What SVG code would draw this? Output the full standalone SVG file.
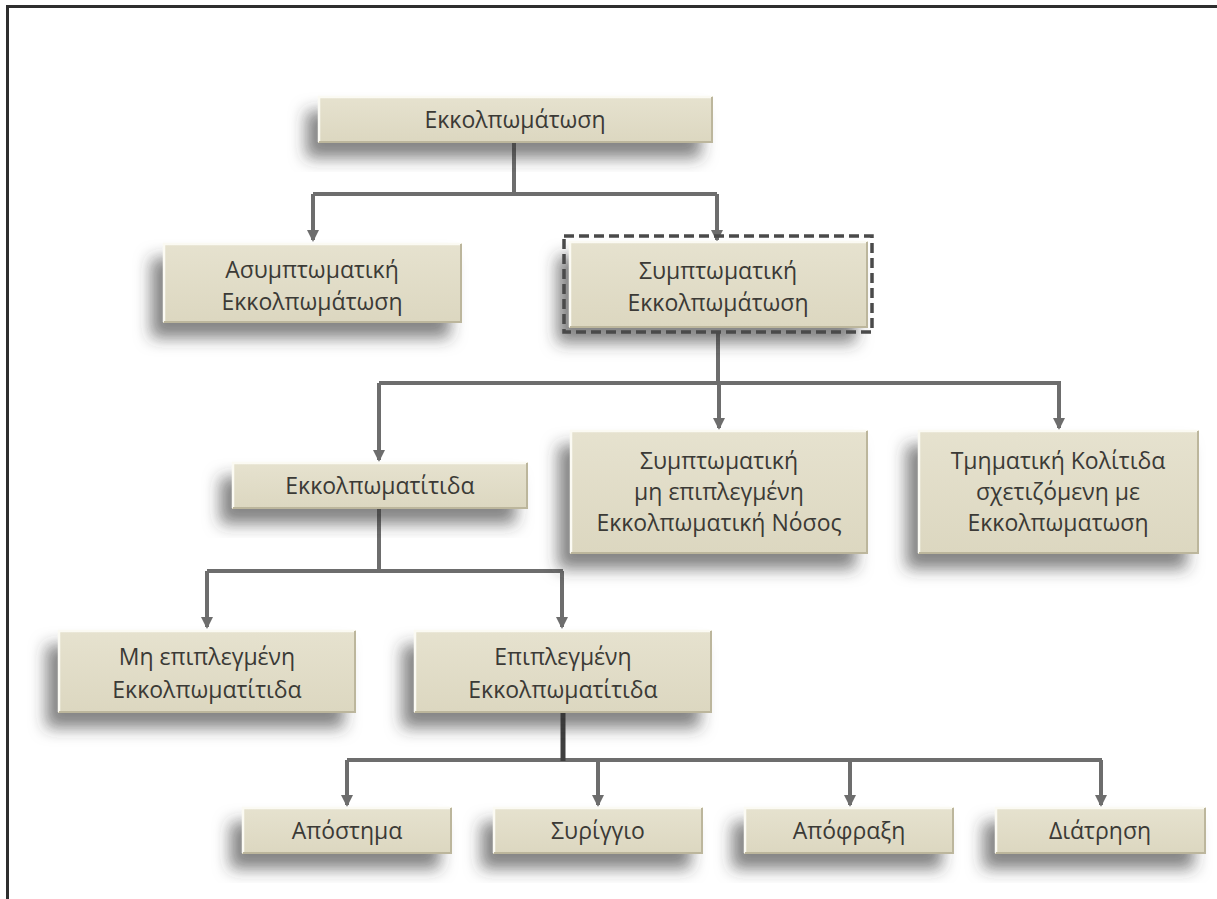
<svg xmlns="http://www.w3.org/2000/svg" width="1217" height="899" viewBox="0 0 1217 899">
<style>
.box{fill:url(#bg);filter:url(#sh)}
.hl{fill:none;stroke:#fbfaf3;stroke-width:2.5}
.dk{fill:none;stroke:#bcb69c;stroke-width:2}
.t{font-family:"Open Sans","Noto Sans",sans-serif;font-size:23px;fill:#3b3a36;text-anchor:middle}
.c{fill:none;stroke:#6d6d6d;stroke-width:4;stroke-linejoin:miter}
.a{fill:none;stroke:#6d6d6d;stroke-width:4;marker-end:url(#ar)}
.dash{fill:none;stroke:#4a4a4a;stroke-width:3.5;stroke-dasharray:10 5}
</style>
<defs>
<linearGradient id="bg" x1="0" y1="0" x2="0" y2="1">
<stop offset="0" stop-color="#e6e2cf"/>
<stop offset="1" stop-color="#dcd7c0"/>
</linearGradient>
<filter id="sh" x="-25%" y="-40%" width="150%" height="200%">
<feDropShadow dx="-12" dy="15" stdDeviation="8" flood-color="#333333" flood-opacity="0.6"/>
</filter>
<marker id="ar" viewBox="0 0 12 12" refX="10" refY="6" markerWidth="12" markerHeight="12" markerUnits="userSpaceOnUse" orient="auto">
<path d="M0,0 L12,6 L0,12 Z" fill="#6d6d6d"/>
</marker>
</defs>
<rect x="0" y="0" width="1217" height="899" fill="#ffffff"/>
<path d="M7.5,899 V6.5 H1217" fill="none" stroke="#2e2e2e" stroke-width="3"/>

<g id="connectors">
<path class="c" d="M514,143 V194 M313,194 H717"/>
<path class="a" d="M313,194 V240"/>
<path class="a" d="M717,194 V240"/>
<path class="c" d="M718,332 V383 M379,383 H1061"/>
<path class="a" d="M379,383 V460"/>
<path class="a" d="M719,383 V428"/>
<path class="a" d="M1059,383 V428"/>
<path class="c" d="M379,509 V571 M207,571 H563"/>
<path class="a" d="M207,571 V627"/>
<path class="a" d="M562,571 V627"/>
<path class="c" d="M347,760 H1102" />
<path d="M563,713 V761" fill="none" stroke="#3f3f3f" stroke-width="5"/>
<path class="a" d="M347,760 V805"/>
<path class="a" d="M598,760 V805"/>
<path class="a" d="M850,760 V805"/>
<path class="a" d="M1101,760 V805"/>
</g>

<g id="n1">
<rect class="box" x="318" y="96" width="395" height="47"/>
<path class="hl" d="M319,142 V97 H712"/><path class="dk" d="M712,97 V142 H319"/>
<text class="t" x="515" y="128">Εκκολπωμάτωση</text>
</g>
<g id="n2">
<rect class="box" x="163" y="243" width="299" height="80"/>
<path class="hl" d="M164,322 V244 H461"/><path class="dk" d="M461,244 V322 H164"/>
<text class="t" x="312" y="278">Ασυμπτωματική</text>
<text class="t" x="312" y="310">Εκκολπωμάτωση</text>
</g>
<g id="n3">
<rect class="box" x="569" y="241" width="299" height="87"/>
<path class="hl" d="M570,327 V242 H867"/><path class="dk" d="M867,242 V327 H570"/>
<rect class="dash" x="564" y="236" width="308" height="96"/>
<text class="t" x="718" y="279">Συμπτωματική</text>
<text class="t" x="718" y="311">Εκκολπωμάτωση</text>
</g>
<g id="n4">
<rect class="box" x="232" y="462" width="296" height="47"/>
<path class="hl" d="M233,508 V463 H527"/><path class="dk" d="M527,463 V508 H233"/>
<text class="t" x="380" y="494">Εκκολπωματίτιδα</text>
</g>
<g id="n5">
<rect class="box" x="570" y="430" width="298" height="124"/>
<path class="hl" d="M571,553 V431 H867"/><path class="dk" d="M867,431 V553 H571"/>
<text class="t" x="719" y="469">Συμπτωματική</text>
<text class="t" x="719" y="500">μη επιπλεγμένη</text>
<text class="t" x="719" y="531">Εκκολπωματική Νόσος</text>
</g>
<g id="n6">
<rect class="box" x="918" y="430" width="281" height="124"/>
<path class="hl" d="M919,553 V431 H1198"/><path class="dk" d="M1198,431 V553 H919"/>
<text class="t" x="1058" y="469">Τμηματική Κολίτιδα</text>
<text class="t" x="1058" y="500">σχετιζόμενη με</text>
<text class="t" x="1058" y="531">Εκκολπωματωση</text>
</g>
<g id="n7">
<rect class="box" x="58" y="630" width="298" height="83"/>
<path class="hl" d="M59,712 V631 H355"/><path class="dk" d="M355,631 V712 H59"/>
<text class="t" x="207" y="665">Μη επιπλεγμένη</text>
<text class="t" x="207" y="698">Εκκολπωματίτιδα</text>
</g>
<g id="n8">
<rect class="box" x="414" y="630" width="298" height="83"/>
<path class="hl" d="M415,712 V631 H711"/><path class="dk" d="M711,631 V712 H415"/>
<text class="t" x="563" y="665">Επιπλεγμένη</text>
<text class="t" x="563" y="698">Εκκολπωματίτιδα</text>
</g>
<g id="n9">
<rect class="box" x="242" y="807" width="210" height="47"/>
<path class="hl" d="M243,853 V808 H451"/><path class="dk" d="M451,808 V853 H243"/>
<text class="t" x="347" y="839">Απόστημα</text>
</g>
<g id="n10">
<rect class="box" x="493" y="807" width="210" height="47"/>
<path class="hl" d="M494,853 V808 H702"/><path class="dk" d="M702,808 V853 H494"/>
<text class="t" x="598" y="839">Συρίγγιο</text>
</g>
<g id="n11">
<rect class="box" x="744" y="807" width="210" height="47"/>
<path class="hl" d="M745,853 V808 H953"/><path class="dk" d="M953,808 V853 H745"/>
<text class="t" x="849" y="839">Απόφραξη</text>
</g>
<g id="n12">
<rect class="box" x="995" y="807" width="211" height="47"/>
<path class="hl" d="M996,853 V808 H1205"/><path class="dk" d="M1205,808 V853 H996"/>
<text class="t" x="1100" y="839">Διάτρηση</text>
</g>
</svg>
